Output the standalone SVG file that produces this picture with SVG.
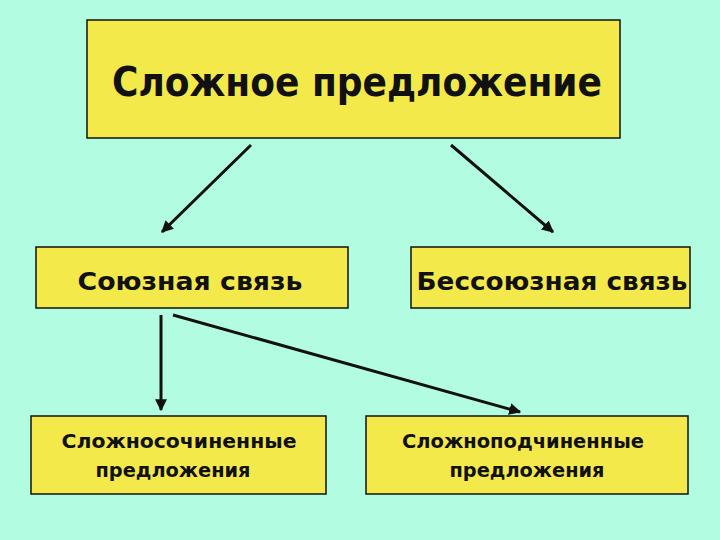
<svg xmlns="http://www.w3.org/2000/svg" width="720" height="540" viewBox="0 0 720 540">
<defs>
<style>
.box{fill:#F4E94A;stroke:#111;stroke-width:1.5}
.t{font-family:"DejaVu Sans","Liberation Sans",sans-serif;font-weight:bold;fill:#111;text-anchor:middle}
.c{stroke:#111;stroke-width:3;fill:none;marker-end:url(#ah)}
</style>
<marker id="ah" viewBox="0 0 10 10" refX="9" refY="5" markerWidth="4" markerHeight="4" orient="auto" markerUnits="strokeWidth">
<path d="M0,0 L10,5 L0,10 z" fill="#111"/>
</marker>
</defs>
<rect width="720" height="540" fill="#B2FDE1"/>
<g id="n1"><rect class="box" x="87" y="20" width="533" height="118"/>
<text class="t" x="357" y="96" font-size="40" textLength="490" lengthAdjust="spacingAndGlyphs">Сложное предложение</text></g>
<g id="n2"><rect class="box" x="36" y="247" width="312" height="61"/>
<text class="t" x="190" y="290" font-size="25" textLength="225" lengthAdjust="spacingAndGlyphs">Союзная связь</text></g>
<g id="n3"><rect class="box" x="411" y="247" width="279" height="61"/>
<text class="t" x="552" y="290" font-size="25" textLength="271" lengthAdjust="spacingAndGlyphs">Бессоюзная связь</text></g>
<g id="n4"><rect class="box" x="31" y="416" width="295" height="78"/>
<text class="t" x="179" y="448" font-size="20" textLength="235" lengthAdjust="spacingAndGlyphs">Сложносочиненные</text>
<text class="t" x="173" y="477" font-size="20" textLength="155" lengthAdjust="spacingAndGlyphs">предложения</text></g>
<g id="n5"><rect class="box" x="366" y="416" width="322" height="78"/>
<text class="t" x="523" y="448" font-size="20" textLength="242" lengthAdjust="spacingAndGlyphs">Сложноподчиненные</text>
<text class="t" x="527" y="477" font-size="20" textLength="155" lengthAdjust="spacingAndGlyphs">предложения</text></g>
<g id="connectors">
<line class="c" x1="251" y1="145" x2="162" y2="232"/>
<line class="c" x1="451" y1="145" x2="553" y2="232"/>
<line class="c" x1="161" y1="315" x2="161" y2="410"/>
<line class="c" x1="173" y1="315" x2="520" y2="412"/>
</g>
</svg>
